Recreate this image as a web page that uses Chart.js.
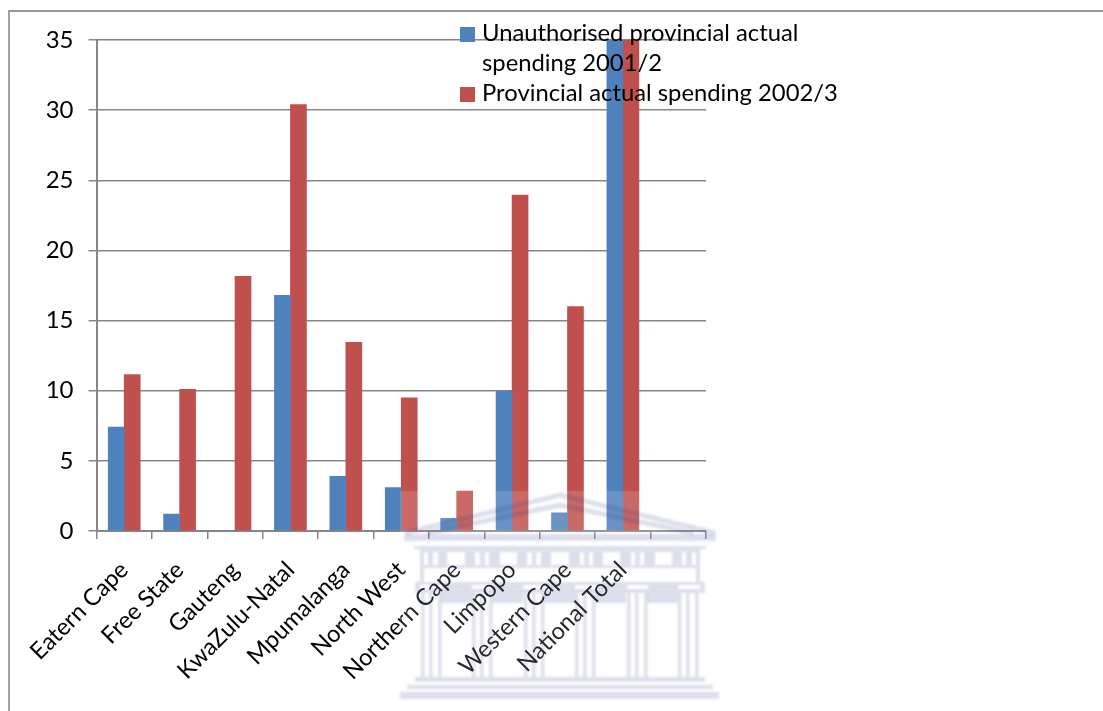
<!DOCTYPE html>
<html>
<head>
<meta charset="utf-8">
<title>Provincial spending</title>
<script src="https://cdn.jsdelivr.net/npm/chart.js@4"></script>
<style>
  html, body { margin: 0; padding: 0; background: #fff; }
  #frame {
    position: absolute; left: 8px; top: 10px; right: 0; bottom: 0;
    border-left: 2px solid #a3a3a3; border-top: 2px solid #979797;
  }
  #spending { position: absolute; left: 0; top: 0; }
</style>
</head>
<body>
<div id="frame"></div>
<canvas id="spending" width="1103" height="711"></canvas>
<script>
const categories = ["Eatern Cape", "Free State", "Gauteng", "KwaZulu-Natal", "Mpumalanga",
  "North West", "Northern Cape", "Limpopo", "Western Cape", "National Total", ""];
const unauthorised2001 = [7.4, 1.2, 0, 16.8, 3.9, 3.1, 0.9, 10, 1.3, 35, null];
const actual2002 = [11.15, 10.1, 18.15, 30.4, 13.45, 9.5, 2.85, 23.95, 16, 35, null];
const yTicks = [0, 5, 10, 15, 20, 25, 30, 35];
const legendLines = [["Unauthorised provincial actual", "spending 2001/2"], ["Provincial actual spending 2002/3"]];

const BLUE = "#4F81BD";
const RED = "#C0504D";
const AXIS = "#868686";
const FONT = "Lato";

// legend sits on top of the plot, so it can't use the built-in one
const overlayLegend = {
  id: "overlayLegend",
  afterDraw(chart) {
    const ctx = chart.ctx;
    ctx.save();
    ctx.font = "23.8px " + FONT;
    ctx.textAlign = "left";
    ctx.textBaseline = "middle";
    let y = 33;
    chart.data.datasets.forEach((ds, i) => {
      ctx.fillStyle = ds.backgroundColor;
      ctx.fillRect(460, y - 6, 15, 15);
      ctx.fillStyle = "#000";
      legendLines[i].forEach((line) => {
        ctx.fillText(line, 482, y);
        y += 30;
      });
    });
    ctx.restore();
  },
};

// faint building stamped over the lower part of the page
const buildingStamp = {
  id: "buildingStamp",
  afterDraw(chart) {
    const ctx = chart.ctx;
    ctx.save();

    ctx.fillStyle = "rgba(255,255,255,0.15)";
    ctx.fillRect(400, 491, 320, 215);

    ctx.filter = "blur(1.1px)";
    ctx.fillStyle = "rgba(30,40,130,0.15)";
    ctx.strokeStyle = "rgba(30,40,130,0.15)";

    // roof
    ctx.lineWidth = 5;
    [495, 505].forEach((top, n) => {
      ctx.beginPath();
      ctx.moveTo(405 + n * 22, 533);
      ctx.lineTo(560, top);
      ctx.lineTo(715 - n * 22, 533);
      ctx.stroke();
    });

    // cornice
    ctx.fillRect(404, 534, 312, 7);
    ctx.fillRect(414, 546, 292, 3);

    // frieze, white slots cut out of a solid band
    const slotsFrom = [424, 433, 447, 475, 485, 500, 527, 536, 551, 580, 589, 603, 631, 640, 655, 682, 692];
    const slotsTo = [428, 438, 465, 480, 489, 517, 532, 541, 569, 584, 593, 620, 635, 644, 672, 686, 696];
    let x = 420;
    slotsFrom.forEach((from, i) => {
      ctx.fillRect(x, 552, from - x, 13);
      x = slotsTo[i];
    });
    ctx.fillRect(x, 552, 700 - x, 13);
    ctx.fillRect(420, 549, 280, 3);
    ctx.fillRect(420, 565, 280, 3);
    ctx.fillRect(420, 568, 4, 14);
    ctx.fillRect(696, 568, 4, 14);

    // dark band above the columns, broken by the capitals
    ctx.fillRect(415, 582, 290, 3);
    [[415, 420], [442, 472], [493, 523], [545, 575], [597, 627], [648, 678], [700, 705]].forEach(([a, b]) => {
      ctx.fillRect(a, 585, b - a, 4);
    });
    ctx.fillRect(415, 589, 290, 4);
    [[441, 472], [492, 523], [544, 575], [596, 626], [647, 678]].forEach(([a, b]) => {
      ctx.fillRect(a, 593, b - a, 10);
    });

    // columns
    [431, 482, 534, 585, 637, 688].forEach((cx) => {
      [-10, -2, 7].forEach((dx) => ctx.fillRect(cx + dx, 593, 3.5, 84));
    });

    // steps
    ctx.fillRect(415, 677, 290, 5);
    ctx.fillRect(407, 685, 306, 4);
    ctx.fillRect(400, 692, 319, 7);

    ctx.restore();
  },
};

new Chart(document.getElementById("spending"), {
  type: "bar",
  data: {
    labels: categories,
    datasets: [
      { label: "Unauthorised provincial actual spending 2001/2", data: unauthorised2001, backgroundColor: BLUE, barThickness: 16 },
      { label: "Provincial actual spending 2002/3", data: actual2002, backgroundColor: RED, barThickness: 16 },
    ],
  },
  plugins: [buildingStamp, overlayLegend],
  options: {
    responsive: false,
    animation: false,
    layout: { padding: { left: 0, top: 40, right: 397, bottom: 0 } },
    plugins: { legend: { display: false }, title: { display: false }, tooltip: { enabled: false } },
    scales: {
      x: {
        afterFit: (scale) => { scale.height = 180; },
        grid: { drawOnChartArea: false, drawTicks: true, tickLength: 8, color: AXIS, lineWidth: 1.5 },
        border: { color: AXIS, width: 2 },
        ticks: { autoSkip: false, minRotation: 45, maxRotation: 45, padding: 17, labelOffset: 0, color: "#000", font: { family: FONT, size: 23.6 } },
      },
      y: {
        min: 0,
        max: 35,
        afterFit: (scale) => { scale.width = 96.5; },
        afterBuildTicks: (scale) => { scale.ticks = yTicks.map((value) => ({ value })); },
        grid: { drawTicks: true, tickLength: 8, color: AXIS, lineWidth: 1.5 },
        border: { color: AXIS, width: 2 },
        ticks: { padding: 15, color: "#000", font: { family: FONT, size: 24 } },
      },
    },
  },
});
</script>
</body>
</html>
